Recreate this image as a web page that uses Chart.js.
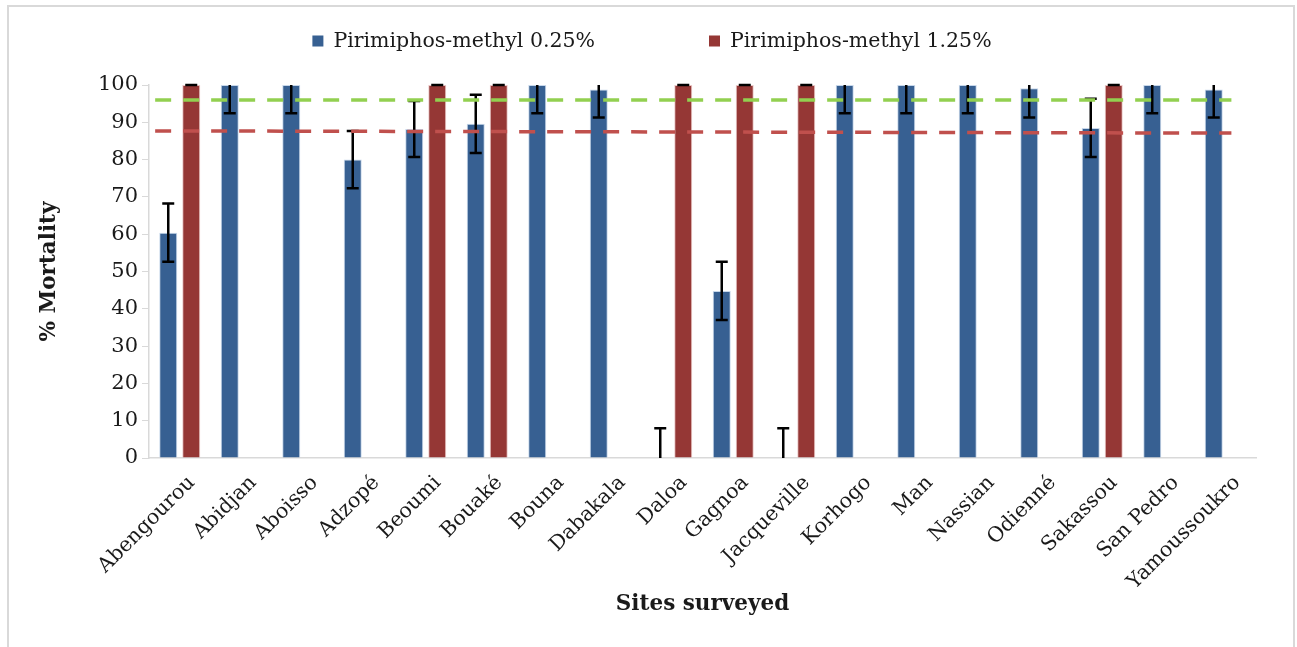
<!DOCTYPE html>
<html>
<head>
<meta charset="utf-8">
<script src="https://cdn.jsdelivr.net/npm/chart.js@4.4.1/dist/chart.umd.min.js"></script>
<style>
    body { margin: 0; background: #fff; }
    #wrap { width: 1297px; height: 647px; position: relative; }
</style>
</head>
<body>
<div id="wrap"><canvas id="chart" width="1297" height="647"></canvas></div>
<script>
// Sites surveyed (x categories)
const sites = [
    'Abengourou', 'Abidjan', 'Aboisso', 'Adzopé', 'Beoumi', 'Bouaké', 'Bouna', 'Dabakala', 'Daloa',
    'Gagnoa', 'Jacqueville', 'Korhogo', 'Man', 'Nassian', 'Odienné', 'Sakassou', 'San Pedro', 'Yamoussoukro'
];

// % mortality with pirimiphos-methyl 0.25%
const mortality025 = [60.4, 100, 100, 80, 88.2, 89.6, 100, 98.8, 0, 44.8, 0, 100, 100, 100, 99.1, 88.5, 100, 98.8];
const error025 = [7.8, 7.6, 7.6, 7.7, 7.5, 7.8, 7.6, 7.5, 8, 7.8, 8, 7.6, 7.6, 7.6, 7.8, 7.8, 7.6, 7.5];

// % mortality with pirimiphos-methyl 1.25% (null = not tested)
const mortality125 = [100, null, null, null, 100, 100, null, null, 100, 100, 100, null, null, null, null, 100, null, null];
const error125 = [0, null, null, null, 0, 0, null, null, 0, 0, 0, null, null, null, null, 0, null, null];

// Dashed reference lines (start / end position in category index units)
const refX = [-0.4, 17.1];
const greenRef = [96, 96];
const redRef = [87.7, 87.1];

const yTicks = { min: 0, max: 100, step: 10 };

const serif = "'DejaVu Serif', 'Liberation Serif', serif";
const textColor = '#1a1a1a';
const axisGrey = '#D9D9D9';

// Outer frame of the picture
const framePlugin = {
    id: 'frame',
    beforeDraw(chart) {
        const ctx = chart.ctx;
        ctx.save();
        ctx.strokeStyle = axisGrey;
        ctx.lineWidth = 2;
        ctx.beginPath();
        ctx.moveTo(8, 700);
        ctx.lineTo(8, 6);
        ctx.lineTo(1294, 6);
        ctx.lineTo(1294, 700);
        ctx.stroke();
        ctx.restore();
    }
};

// Error bars, drawn right after each bar dataset (so the dashed lines stay on top)
const errorBarPlugin = {
    id: 'errorBars',
    afterDatasetDraw(chart, args) {
        const ds = chart.data.datasets[args.index];
        if (!ds.errors) return;
        const y = chart.scales.y;
        const ctx = chart.ctx;
        const cap = 6;
        ctx.save();
        ctx.strokeStyle = '#000';
        ctx.lineWidth = 2.5;
        args.meta.data.forEach((bar, i) => {
            const v = ds.data[i];
            const e = ds.errors[i];
            if (v === null || e === null) return;
            const hi = Math.min(v + e, yTicks.max);
            const lo = Math.max(v - e, yTicks.min);
            const yHi = y.getPixelForValue(hi);
            const yLo = y.getPixelForValue(lo);
            ctx.beginPath();
            ctx.moveTo(bar.x, yLo);
            ctx.lineTo(bar.x, yHi);
            if (v + e <= yTicks.max) {
                ctx.moveTo(bar.x - cap, yHi);
                ctx.lineTo(bar.x + cap, yHi);
            }
            if (v - e >= yTicks.min && e > 0) {
                ctx.moveTo(bar.x - cap, yLo);
                ctx.lineTo(bar.x + cap, yLo);
            }
            ctx.stroke();
        });
        ctx.restore();
    }
};

// Legend drawn by hand so the items can sit far apart like the original
const legendPlugin = {
    id: 'wideLegend',
    afterDraw(chart) {
        const ctx = chart.ctx;
        const items = chart.data.datasets.filter(d => d.type !== 'line');
        const fontSize = 20.5;
        const box = 11;
        const gap = 10;
        const spacing = 114;
        const centerX = 652;
        const centerY = 41;
        ctx.save();
        ctx.font = fontSize + 'px ' + serif;
        ctx.textBaseline = 'middle';
        const widths = items.map(d => box + gap + ctx.measureText(d.label).width);
        const total = widths.reduce((a, b) => a + b, 0) + spacing * (items.length - 1);
        let x = centerX - total / 2;
        items.forEach((d, i) => {
            ctx.fillStyle = d.backgroundColor;
            ctx.fillRect(x, centerY - box / 2, box, box);
            ctx.fillStyle = textColor;
            ctx.fillText(d.label, x + box + gap, centerY + 1);
            x += widths[i] + spacing;
        });
        ctx.restore();
    }
};

const refLine = (label, values, color) => ({
    type: 'line',
    label: label,
    // index positions on the category axis, so parsing is switched off
    data: refX.map((x, i) => ({ x: x, y: values[i] })),
    parsing: false,
    borderColor: color,
    borderWidth: 3.5,
    borderDash: [16, 12],
    pointRadius: 0,
    fill: false,
    order: 1
});

const ctx = document.getElementById('chart').getContext('2d');

new Chart(ctx, {
    type: 'bar',
    data: {
        labels: sites,
        datasets: [
            {
                label: 'Pirimiphos-methyl 0.25%',
                data: mortality025,
                errors: error025,
                backgroundColor: '#376092',
                borderColor: 'rgba(185, 205, 229, 0.8)',
                borderWidth: 1,
                order: 2
            },
            {
                label: 'Pirimiphos-methyl 1.25%',
                data: mortality125,
                errors: error125,
                backgroundColor: '#953735',
                borderColor: 'rgba(230, 185, 184, 0.8)',
                borderWidth: 1,
                order: 2
            },
            refLine('green reference', greenRef, '#92D050'),
            refLine('red reference', redRef, '#C0504D')
        ]
    },
    options: {
        responsive: false,
        animation: false,
        devicePixelRatio: 1,
        datasets: {
            bar: {
                categoryPercentage: 0.748,
                barPercentage: 0.783
            }
        },
        layout: {
            padding: { left: 0, right: 41, top: 85, bottom: 0 }
        },
        plugins: {
            legend: { display: false },
            tooltip: { enabled: false }
        },
        scales: {
            x: {
                grid: { display: false },
                border: { display: true, color: axisGrey, width: 1.5 },
                ticks: {
                    color: textColor,
                    font: { family: serif, size: 20.5 },
                    maxRotation: 45,
                    minRotation: 45,
                    autoSkip: false,
                    padding: 5,
                    labelOffset: 12
                },
                title: {
                    display: true,
                    text: 'Sites surveyed',
                    color: textColor,
                    font: { family: serif, size: 21.5, weight: 'bold' },
                    padding: { top: 0, bottom: 30 }
                },
                afterFit(scale) {
                    scale.height = 189;
                }
            },
            y: {
                min: yTicks.min,
                max: yTicks.max,
                grid: {
                    drawOnChartArea: false,
                    drawTicks: true,
                    tickLength: 7,
                    color: axisGrey
                },
                border: { display: true, color: axisGrey, width: 1.5 },
                ticks: {
                    stepSize: yTicks.step,
                    color: textColor,
                    font: { family: serif, size: 21 },
                    padding: 4
                },
                title: {
                    display: true,
                    text: '% Mortality',
                    color: textColor,
                    font: { family: serif, size: 21.5, weight: 'bold' },
                    padding: { top: 37, bottom: 0 }
                },
                afterFit(scale) {
                    scale.width = 149;
                }
            }
        }
    },
    plugins: [framePlugin, errorBarPlugin, legendPlugin]
});
</script>
</body>
</html>
